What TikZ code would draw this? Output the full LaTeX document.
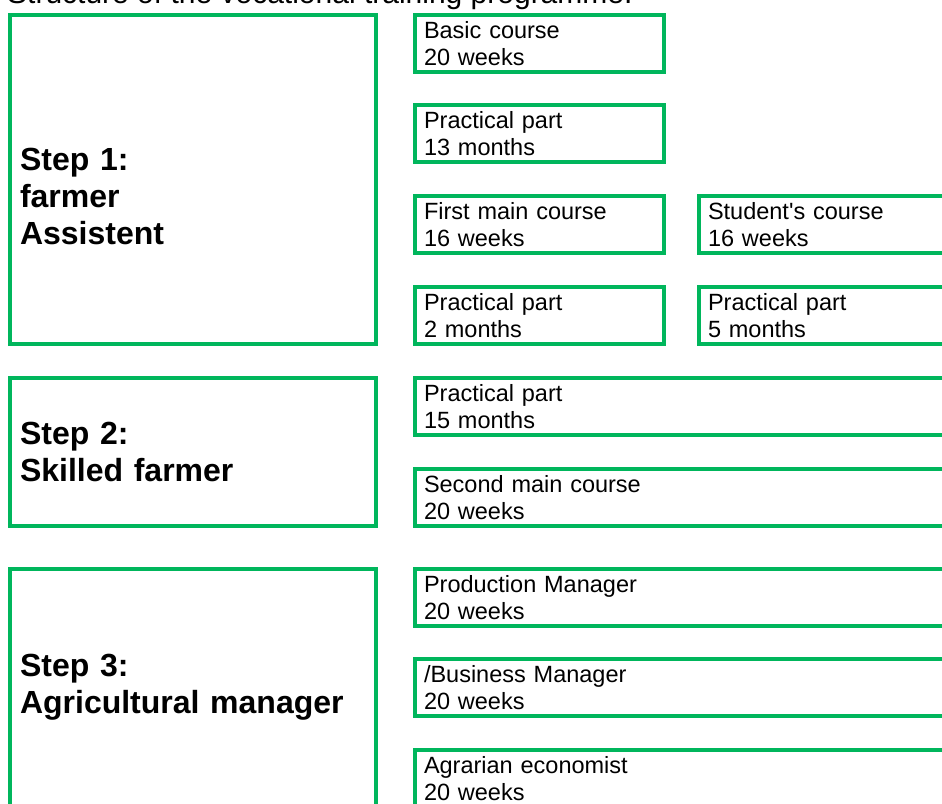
\documentclass[tikz,border=0pt]{standalone}
\usepackage{fontspec}
\setmainfont{Liberation Sans}
\definecolor{boxgreen}{RGB}{0,182,92}
\tikzset{
  box/.style={draw=boxgreen, line width=4pt, rectangle, outer sep=0pt, inner xsep=9pt, inner ysep=0pt,
    align=left, anchor=north west, font=\fontsize{23.5}{27}\selectfont},
  smallbox/.style={box, minimum width=249pt, text width=231pt, minimum height=57pt},
  sidebox/.style={box, minimum width=261pt, text width=243pt, minimum height=57pt},
  widebox/.style={box, minimum width=545pt, text width=527pt, minimum height=57pt},
  stepbox/.style={box, minimum width=366pt, text width=346pt, inner xsep=10pt,
    font=\fontsize{32}{37}\selectfont\bfseries},
}
\begin{document}
\begin{tikzpicture}[x=1pt, y=-1pt]
  \useasboundingbox (0,0) rectangle (942,803);
  \clip (0,0) rectangle (942,803);
  \node[anchor=base west, inner sep=0pt, font=\fontsize{30}{34}\selectfont] (title) at (7,4)
    {Structure of the vocational training programme:};
  % steps
  \node[stepbox, minimum height=329pt, text height=57pt] (step1) at (10,15) {Step 1:\\farmer\\Assistent};
  \node[stepbox, minimum height=148pt] (step2) at (10,378) {Step 2:\\Skilled farmer};
  \node[stepbox, minimum height=237pt] (step3) at (10,569) {Step 3:\\Agricultural manager};
  % step 1
  \node[smallbox] (basic) at (415,15) {Basic course\\20 weeks};
  \node[smallbox] (prac1) at (415,105) {Practical part\\13 months};
  \node[smallbox] (main1) at (415,196) {First main course\\16 weeks};
  \node[smallbox] (prac2) at (415,287) {Practical part\\2 months};
  \node[sidebox] (student) at (699,196) {Student\textquotesingle s course\\16 weeks};
  \node[sidebox] (prac3) at (699,287) {Practical part\\5 months};
  % step 2
  \node[widebox] (prac4) at (415,378) {Practical part\\15 months};
  \node[widebox] (main2) at (415,469) {Second main course\\20 weeks};
  % step 3
  \node[widebox] (prod) at (415,569) {Production Manager\\20 weeks};
  \node[widebox] (busi) at (415,659) {/Business Manager\\20 weeks};
  \node[widebox] (agrar) at (415,750) {Agrarian economist\\20 weeks};
\end{tikzpicture}
\end{document}
